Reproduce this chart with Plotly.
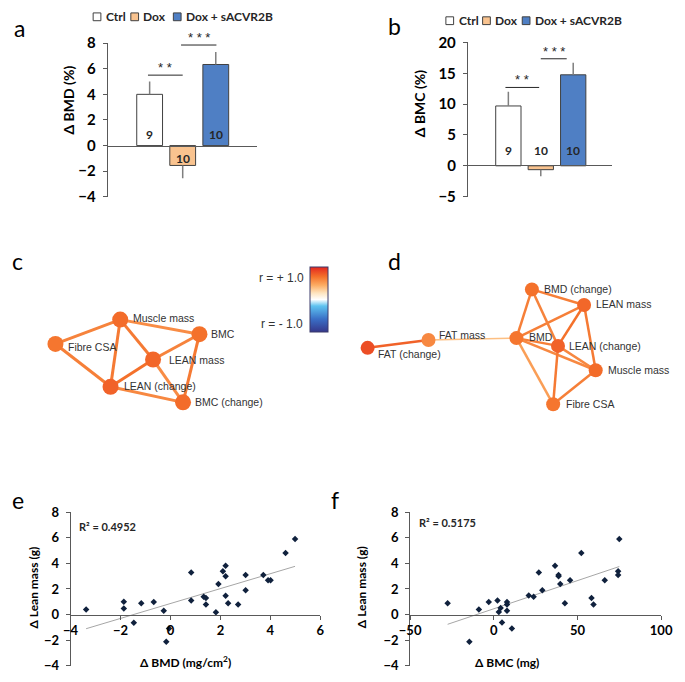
import numpy as np
import plotly.graph_objects as go
from plotly.colors import sample_colorscale

W, H = 685, 682
FONT = "Lato"
NET_FONT = "Liberation Sans"
AXIS_COLOR = "#595959"

# ---- panels a / b : bar data ----
groups = ["Ctrl", "Dox", "Dox + sACVR2B"]
group_colors = ["#ffffff", "#f9c38f", "#4f7fc4"]
bmd_mean = [4.0, -1.55, 6.33]
bmd_err = [1.0, 1.0, 0.97]
bmc_mean = [9.7, -0.63, 14.75]
bmc_err = [2.3, 1.07, 1.95]
n_per_group = ["9", "10", "10"]

# ---- panels c / d : correlation networks ----
c_nodes = ["Muscle mass", "BMC", "Fibre CSA", "LEAN mass", "LEAN (change)", "BMC (change)"]
c_x = [113, 195, 46, 147, 103, 178]
c_y = [318, 333, 343, 359, 387, 403]
c_r = [0.72, 0.70, 0.68, 0.74, 0.76, 0.72]
c_edges = [
    ("Muscle mass", "Fibre CSA", 0.62),
    ("Muscle mass", "BMC", 0.58),
    ("Muscle mass", "LEAN mass", 0.66),
    ("Muscle mass", "LEAN (change)", 0.66),
    ("Fibre CSA", "LEAN (change)", 0.64),
    ("LEAN mass", "BMC", 0.62),
    ("LEAN mass", "LEAN (change)", 0.70),
    ("LEAN mass", "BMC (change)", 0.58),
    ("LEAN (change)", "BMC (change)", 0.60),
    ("BMC", "BMC (change)", 0.66),
]
c_label_dx = [11, 10, 11, 14, 12, 10]
c_label_dy = [-2, 0, 3, 0, -1, 0]

d_nodes = ["BMD (change)", "LEAN mass", "FAT mass", "BMD", "LEAN (change)",
           "FAT (change)", "Muscle mass", "Fibre CSA"]
d_x = [539, 593, 432, 523, 566, 369, 605, 561]
d_y = [287, 303, 339, 337, 345, 347, 370, 405]
d_r = [0.70, 0.74, 0.60, 0.68, 0.76, 0.84, 0.72, 0.68]
d_edges = [
    ("FAT (change)", "FAT mass", 0.76),
    ("FAT mass", "BMD", 0.36),
    ("BMD", "BMD (change)", 0.64),
    ("BMD", "LEAN mass", 0.64),
    ("BMD", "LEAN (change)", 0.64),
    ("BMD", "Muscle mass", 0.60),
    ("BMD", "Fibre CSA", 0.50),
    ("BMD (change)", "LEAN mass", 0.64),
    ("BMD (change)", "LEAN (change)", 0.62),
    ("LEAN mass", "LEAN (change)", 0.70),
    ("LEAN mass", "Muscle mass", 0.66),
    ("LEAN (change)", "Muscle mass", 0.60),
    ("LEAN (change)", "Fibre CSA", 0.66),
    ("Muscle mass", "Fibre CSA", 0.64),
]
d_label_dx = [10, 10, 9, 11, 9, 9, 11, 11]
d_label_dy = [0, -1, -5, -1, 0, 6, 0, 0]

# ---- panels e / f : scatter data ----
e_bmd = [-3.38, -1.87, -1.87, -1.17, -1.47, -0.67, -0.27, -0.06, -0.17, 0.83, 0.83,
         1.33, 1.42, 1.42, 1.82, 1.92, 2.10, 2.21, 2.21, 2.21, 2.31, 2.71, 3.01, 3.01,
         3.72, 3.91, 4.01, 4.61, 4.99]
e_lean = [0.40, 1.00, 0.48, 0.89, -0.63, 0.99, 0.30, -1.09, -2.13, 3.29, 1.09,
          1.39, 1.29, 0.78, 0.18, 2.38, 3.39, 3.82, 2.99, 1.47, 0.89, 0.78, 3.09, 1.90,
          3.09, 2.68, 2.68, 4.81, 5.90]
f_bmc = [-27.6, -8.9, -3.0, 2.2, 3.0, 4.1, 4.9, 7.9, 7.9, 7.9, 10.8, -14.6, 20.9,
         23.8, 26.9, 29.0, 36.6, 38.7, 38.7, 39.7, 42.5, 45.6, 52.3, 58.4, 59.6, 66.3,
         74.3, 74.3, 75.0]
f_lean = [0.89, 0.40, 0.99, 1.09, 0.20, 0.51, -0.61, 0.99, 0.78, 0.30, -1.09, -2.13, 1.49,
          1.39, 3.29, 1.90, 3.82, 3.09, 2.99, 2.38, 0.89, 2.68, 4.81, 1.29, 0.78, 2.68,
          3.39, 3.09, 5.90]

SCALE = [[0.0, "#35378a"], [0.2, "#3a6fc6"], [0.4, "#5ec3f0"], [0.5, "#ffffff"],
         [0.6, "#fee4bf"], [0.72, "#fcac63"], [0.85, "#f4712b"], [1.0, "#e3261f"]]


def fx(px):
    return px / W


def fy(py):
    return 1 - py / H


fig = go.Figure()
annotations = []
shapes = []


def text(px, py, s, size=12, bold=False, family=FONT, angle=0, color="#000000",
         xanchor="center"):
    annotations.append(dict(
        x=fx(px), y=fy(py), xref="paper", yref="paper", text=s, showarrow=False,
        textangle=angle, xanchor=xanchor, yanchor="middle",
        font=dict(family=family, size=size, color=color,
                  weight="bold" if bold else "normal"),
    ))


# ---------------- bar panels ----------------
def bar_panel(ax, means, errs, count_y, stars):
    xa, ya = ("x", "y") if ax == 1 else (f"x{ax}", f"y{ax}")
    for g, col, m, e in zip(groups, group_colors, means, errs):
        fig.add_trace(go.Bar(
            x=[g], y=[m], xaxis=xa, yaxis=ya, width=0.78,
            marker=dict(color=col, line=dict(color="#404040", width=1)),
            error_y=dict(type="data", symmetric=False,
                         array=[e if m > 0 else 0], arrayminus=[e if m < 0 else 0],
                         color="#7f7f7f", thickness=1.5, width=0),
            showlegend=False,
        ))
    for g, n, cy in zip(groups, n_per_group, count_y):
        annotations.append(dict(x=g, y=cy, xref=xa, yref=ya, text=n, showarrow=False,
                                font=dict(family=FONT, size=12, weight="bold",
                                          color="#262626")))
    for (x0, x1, yl, s) in stars:
        shapes.append(dict(type="line", xref=xa, yref=ya, x0=x0, x1=x1, y0=yl, y1=yl,
                           line=dict(color="#262626", width=1)))
        annotations.append(dict(x=(x0 + x1) / 2, y=yl, xref=xa, yref=ya, text=s,
                                showarrow=False, yanchor="bottom", yshift=-2,
                                font=dict(family="Liberation Sans", size=13,
                                          color="#262626")))


bar_panel(1, bmd_mean, bmd_err, [0.84, -1.0, 0.84],
          [(-0.05, 1.0, 5.5, "* *"), (0.95, 2.02, 7.85, "* * *")])
bar_panel(2, bmc_mean, bmc_err, [2.4, 2.4, 2.4],
          [(-0.09, 0.95, 12.7, "* *"), (1.0, 1.8, 17.35, "* * *")])

# legends for a and b
legend_a = [85, 124, 168]
legend_b = [450, 488, 529]
for starts, ly in ((legend_a, 7), (legend_b, 11)):
    for x0, g, col in zip(starts, groups, group_colors):
        shapes.append(dict(type="rect", xref="paper", yref="paper",
                           x0=fx(x0), x1=fx(x0 + 8), y0=fy(ly + 4), y1=fy(ly - 4),
                           fillcolor=col, line=dict(color="#404040", width=1)))
        text(x0 + 11, ly, g, size=12, bold=True, xanchor="left", color="#262626")

# ---------------- network panels ----------------
for nodes, xs, ys, rs, ldx, ldy, edges, xa, ya, size, lw in (
    (c_nodes, c_x, c_y, c_r, c_label_dx, c_label_dy, c_edges, "x3", "y3", 16, 3),
    (d_nodes, d_x, d_y, d_r, d_label_dx, d_label_dy, d_edges, "x4", "y4", 14, 2.5),
):
    idx = {n: i for i, n in enumerate(nodes)}
    for a, b, r in edges:
        i, j = idx[a], idx[b]
        col = sample_colorscale(SCALE, [(r + 1) / 2])[0]
        fig.add_trace(go.Scatter(
            x=[xs[i], xs[j]], y=[ys[i], ys[j]], xaxis=xa, yaxis=ya, mode="lines",
            line=dict(color=col, width=lw if r > 0.45 else 1.6),
            hoverinfo="skip", showlegend=False, cliponaxis=False,
        ))
    fig.add_trace(go.Scatter(
        x=xs, y=ys, xaxis=xa, yaxis=ya, mode="markers", text=nodes,
        marker=dict(size=size, color=rs, coloraxis="coloraxis", line=dict(width=0)),
        showlegend=False, cliponaxis=False,
    ))
    for n, x, y, dx, dy in zip(nodes, xs, ys, ldx, ldy):
        annotations.append(dict(x=x + dx, y=y + dy, xref=xa, yref=ya, text=n,
                                showarrow=False, xanchor="left", yanchor="middle",
                                font=dict(family=NET_FONT, size=10.5, color="#333333")))

text(280, 275, "r = + 1.0", size=12, family=NET_FONT, color="#333333")
text(280, 323, "r = - 1.0", size=12, family=NET_FONT, color="#333333")

# ---------------- scatter panels ----------------
for xs, ys, xa, ya in ((e_bmd, e_lean, "x5", "y5"), (f_bmc, f_lean, "x6", "y6")):
    slope, icpt = np.polyfit(xs, ys, 1)
    xl = np.array([min(xs), max(xs)])
    fig.add_trace(go.Scatter(x=xl, y=slope * xl + icpt, xaxis=xa, yaxis=ya, mode="lines",
                             line=dict(color="#a6a6a6", width=1), showlegend=False,
                             hoverinfo="skip"))
    fig.add_trace(go.Scatter(x=xs, y=ys, xaxis=xa, yaxis=ya, mode="markers",
                             marker=dict(symbol="diamond", size=5, color="#10213d"),
                             showlegend=False, cliponaxis=False))

text(100, 531, "R² = 0.4952", size=11, bold=True, color="#262626")
text(452, 526, "R² = 0.5175", size=11, bold=True, color="#262626")

# axis titles
text(60, 92, "Δ BMD (%)", size=14, bold=True, angle=-90)
text(423, 96, "Δ BMC (%)", size=14, bold=True, angle=-90)
text(23, 593, "Δ Lean mass (g)", size=12, bold=True, angle=-90)
text(363, 593, "Δ Lean mass (g)", size=12, bold=True, angle=-90)
text(181, 670, "Δ BMD (mg/cm<sup>2</sup>)", size=12, bold=True)
text(513, 670, "Δ BMC (mg)", size=12, bold=True)

# panel letters
for letter, px, py in (("a", 9, 18), ("b", 397, 16), ("c", 7, 258), ("d", 397, 258),
                       ("e", 7, 503), ("f", 335, 503)):
    text(px, py, letter, size=23)


def yax(dom, rng, dtick, size, anchor):
    return dict(domain=dom, range=rng, dtick=dtick, anchor=anchor, showline=True,
                linecolor=AXIS_COLOR, linewidth=1, ticks="outside", ticklen=4,
                tickcolor=AXIS_COLOR, showgrid=False, zeroline=False,
                tickfont=dict(family=FONT, size=size, weight="bold", color="#000000"),
                ticklabelstandoff=4)


def xax(dom, rng, pos, labels, dtick=None, size=12):
    d = dict(domain=dom, range=rng, anchor="free", position=pos, showline=True,
             linecolor=AXIS_COLOR, linewidth=1, showgrid=False, zeroline=False,
             showticklabels=labels, ticks="outside" if labels else "", ticklen=4,
             tickcolor=AXIS_COLOR,
             tickfont=dict(family=FONT, size=size, weight="bold", color="#000000"))
    if dtick:
        d["dtick"] = dtick
    return d


hidden = dict(visible=False, showgrid=False, zeroline=False)

fig.update_layout(
    width=W, height=H, margin=dict(l=0, r=0, t=0, b=0),
    paper_bgcolor="white", plot_bgcolor="rgba(0,0,0,0)",
    barmode="overlay", showlegend=False,
    xaxis=xax([fx(100), fx(255)], [-1.27, 3.26], fy(139.3), False),
    yaxis=yax([fy(191.9), fy(34)], [-4, 8], 2, 15, "x"),
    xaxis2=xax([fx(472.7), fx(622)], [-1.25, 3.2], fy(159.3), False),
    yaxis2=yax([fy(191.7), fy(33.3)], [-5, 20], 5, 15, "x2"),
    xaxis3=dict(domain=[0, fx(330)], range=[0, 330], **hidden),
    yaxis3=dict(domain=[fy(450), fy(245)], range=[450, 245], anchor="x3", **hidden),
    xaxis4=dict(domain=[fx(330), 1], range=[330, 685], **hidden),
    yaxis4=dict(domain=[fy(450), fy(245)], range=[450, 245], anchor="x4", **hidden),
    xaxis5=xax([fx(61.7), fx(320)], [-4, 6], fy(621), True, 2, 13),
    yaxis5=yax([fy(673.6), fy(515.7)], [-4, 8], 2, 13, "x5"),
    xaxis6=xax([fx(413), fx(672.7)], [-50, 100], fy(621), True, 50, 13),
    yaxis6=yax([fy(673.6), fy(515.7)], [-4, 8], 2, 13, "x6"),
    coloraxis=dict(
        cmin=-1, cmax=1, colorscale=SCALE,
        colorbar=dict(x=fx(309), xanchor="left", y=fy(264), yanchor="top",
                      len=65, lenmode="pixels", thickness=18, thicknessmode="pixels",
                      outlinewidth=1, outlinecolor="#3a3a6a", showticklabels=False,
                      ticks="", xpad=0, ypad=0),
    ),
    annotations=annotations,
    shapes=shapes,
)

fig.write_html("out.html", config={"displayModeBar": False},
               post_script="document.body.style.margin='0px';"
                           "document.body.style.overflow='hidden';")
